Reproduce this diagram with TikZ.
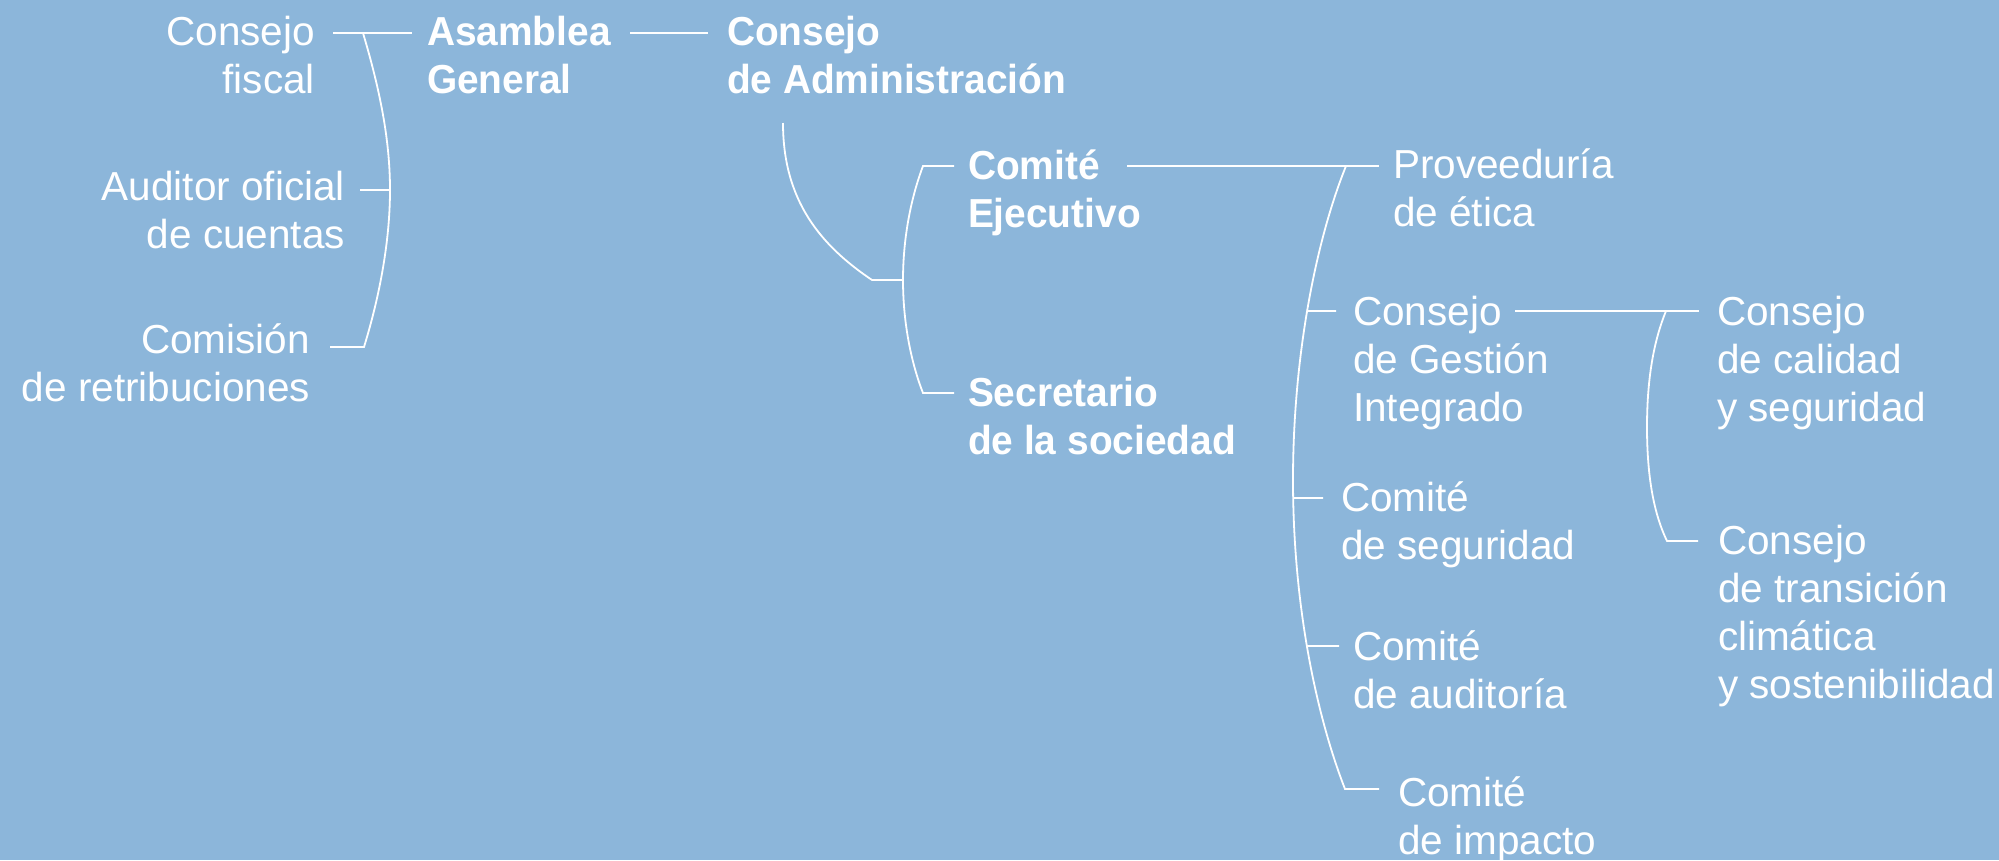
\documentclass[tikz,border=0pt]{standalone}
\usepackage{fontspec}
\setmainfont{Liberation Sans}[BoldFeatures={FakeStretch=0.96}]
\usetikzlibrary{intersections}
\definecolor{bg}{RGB}{140,182,218}
\newcommand\toprl{\rule{0pt}{36pt}}
\begin{document}
\begin{tikzpicture}[x=1pt,y=-1pt,
  lbl/.style={inner sep=0pt, outer sep=0pt, text=white, font=\fontsize{40.5}{48}\selectfont},
  lblL/.style={lbl, anchor=north west, align=left},
  lblR/.style={lbl, anchor=north east, align=right},
  bld/.style={font=\fontsize{40.5}{48}\selectfont\bfseries},
  ln/.style={draw=white, line width=1.8pt, line join=miter}]
\fill[bg] (0,0) rectangle (1999,860);
\useasboundingbox (0,0) rectangle (1999,860);

% texts
\node[lblR] (cf)  at (315,9)     {\toprl Consejo\\fiscal};
\node[lblR] (aoc) at (345,164.7) {\toprl Auditor oficial\\de cuentas};
\node[lblR] (cr)  at (310,317)   {\toprl Comisión\\de retribuciones};
\node[lblL,bld] (ag)  at (427,9)   {\toprl Asamblea\\General};
\node[lblL,bld] (cda) at (727,9)   {\toprl Consejo\\de Administración};
\node[lblL,bld] (ce)  at (968,143) {\toprl Comité\\Ejecutivo};
\node[lblL,bld] (ss)  at (968,370) {\toprl Secretario\\de la sociedad};
\node[lblL] (pe)   at (1393,142)   {\toprl Proveeduría\\de ética};
\node[lblL] (cgi)  at (1353,289)   {\toprl Consejo\\de Gestión\\Integrado};
\node[lblL] (cs)   at (1341,475.7) {\toprl Comité\\de seguridad};
\node[lblL] (ca)   at (1353,624)   {\toprl Comité\\de auditoría};
\node[lblL] (ci)   at (1398,770.7) {\toprl Comité\\de impacto};
\node[lblL] (ccs)  at (1717,289)   {\toprl Consejo\\de calidad\\y seguridad};
\node[lblL] (ctcs) at (1718,518)   {\toprl Consejo\\de transición\\climática\\y sostenibilidad};

% connector end points
\coordinate (a1) at (333,33);  \coordinate (a2) at (412,33);
\coordinate (b1) at (630,33);  \coordinate (b2) at (708,33);
\coordinate (c1) at (1127,166); \coordinate (c2) at (1379,166);
\coordinate (d1) at (1515,311); \coordinate (d2) at (1699,311);

\draw[ln] (a1) -- (a2);
\draw[ln] (b1) -- (b2);
\draw[ln] (c1) -- (c2);
\draw[ln] (d1) -- (d2);

% bracket A (left)
\draw[ln] (330,347) -- (364,347) .. controls (380,295) and (390,240) .. (390,190)
          .. controls (390,140) and (380,90) .. (363,33);
\draw[ln] (360,190) -- (390,190);

% from Consejo de Administracion to bracket B
\draw[ln] (783,123) .. controls (783,200) and (820,245) .. (872,280) -- (903,280);
\draw[ln] (954,166) -- (923,166) .. controls (912,195) and (903,235) .. (903,280)
          .. controls (903,325) and (912,365) .. (923,393) -- (954,393);

% bracket C
\draw[ln, name path=brC] (1346,166) .. controls (1318,235) and (1293,350) .. (1293,480)
          .. controls (1293,610) and (1318,720) .. (1345,789) -- (1379,789);
\path[name path=h1] (1250,311) -- (1400,311);
\path[name path=h2] (1250,498) -- (1400,498);
\path[name path=h3] (1250,646) -- (1400,646);
\path[name intersections={of=brC and h1, by=t1}];
\path[name intersections={of=brC and h2, by=t2}];
\path[name intersections={of=brC and h3, by=t3}];
\draw[ln] (t1) -- (1336,311);
\draw[ln] (t2) -- (1323,498);
\draw[ln] (t3) -- (1339,646);

% bracket D
\draw[ln] (1666,311) .. controls (1652,345) and (1647,385) .. (1647,427)
          .. controls (1647,470) and (1652,510) .. (1667,541) -- (1698,541);
\end{tikzpicture}
\end{document}
